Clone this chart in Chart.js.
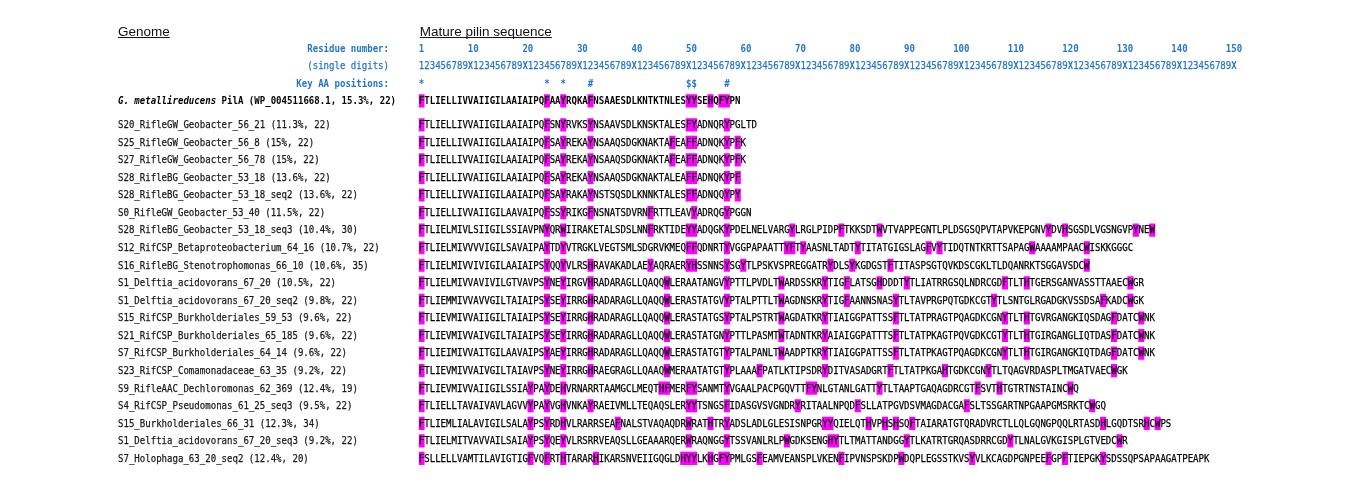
<!DOCTYPE html>
<html>
<head>
<meta charset="utf-8">
<title>Mature pilin sequences</title>
<script src="https://cdn.jsdelivr.net/npm/chart.js@4.4.0/dist/chart.umd.min.js"></script>
<style>
  html, body { margin: 0; padding: 0; background: #fff; }
  #wrap { width: 1360px; height: 502px; }
</style>
</head>
<body>
<div id="wrap"><canvas id="grafica" width="1360" height="502"></canvas></div>
<script>
// reference pilin
const refName = ['G. metallireducens', ' PilA (WP_004511668.1, 15.3%, 22)'];
const refSeq = 'FTLIELLIVVAIIGILAAIAIPQFAAYRQKAFNSAAESDLKNTKTNLESYYSEHQFYPN';

const genomes = [
  'S20_RifleGW_Geobacter_56_21 (11.3%, 22)',
  'S25_RifleGW_Geobacter_56_8 (15%, 22)',
  'S27_RifleGW_Geobacter_56_78 (15%, 22)',
  'S28_RifleBG_Geobacter_53_18 (13.6%, 22)',
  'S28_RifleBG_Geobacter_53_18_seq2 (13.6%, 22)',
  'S0_RifleGW_Geobacter_53_40 (11.5%, 22)',
  'S28_RifleBG_Geobacter_53_18_seq3 (10.4%, 30)',
  'S12_RifCSP_Betaproteobacterium_64_16 (10.7%, 22)',
  'S16_RifleBG_Stenotrophomonas_66_10 (10.6%, 35)',
  'S1_Delftia_acidovorans_67_20 (10.5%, 22)',
  'S1_Delftia_acidovorans_67_20_seq2 (9.8%, 22)',
  'S15_RifCSP_Burkholderiales_59_53 (9.6%, 22)',
  'S21_RifCSP_Burkholderiales_65_185 (9.6%, 22)',
  'S7_RifCSP_Burkholderiales_64_14 (9.6%, 22)',
  'S23_RifCSP_Comamonadaceae_63_35 (9.2%, 22)',
  'S9_RifleAAC_Dechloromonas_62_369 (12.4%, 19)',
  'S4_RifCSP_Pseudomonas_61_25_seq3 (9.5%, 22)',
  'S15_Burkholderiales_66_31 (12.3%, 34)',
  'S1_Delftia_acidovorans_67_20_seq3 (9.2%, 22)',
  'S7_Holophaga_63_20_seq2 (12.4%, 20)'
];

const sequences = [
  'FTLIELLIVVAIIGILAAIAIPQFSNYRVKSYNSAAVSDLKNSKTALESFYADNQRYPGLTD',
  'FTLIELLIVVAIIGILAAIAIPQFSAYREKAYNSAAQSDGKNAKTAFEAFFADNQKYPFK',
  'FTLIELLIVVAIIGILAAIAIPQFSAYREKAYNSAAQSDGKNAKTAFEAFFADNQKYPFK',
  'FTLIELLIVVAIIGILAAIAIPQFSAYREKAYNSAAQSDGKNAKTALEAFFADNQKYPF',
  'FTLIELLIVVAIIGILAAIAIPQFSAYRAKAYNSTSQSDLKNNKTALESFFADNQQYPY',
  'FTLIELLIVVAIIGILAAVAIPQFSSYRIKGFNSNATSDVRNFRTTLEAVYADRQGYPGGN',
  'FTLIELMIVLSIIGILSSIAVPNYQRWIIRAKETALSDSLNNFRKTIDEYYADQGKYPDELNELVARGYLRGLPIDPFTKKSDTWVTVAPPEGNTLPLDSGSQPVTAPVKEPGNVYDVHSGSDLVGSNGVPYNEW',
  'FTLIELMIVVVVIGILSAVAIPAYTDYVTRGKLVEGTSMLSDGRVKMEQFFQDNRTYVGGPAPAATTYFTYAASNLTADTYTITATGIGSLAGFVYTIDQTNTKRTTSAPAGWAAAAMPAACWISKKGGGC',
  'FTLIELMIVVIVIGILAAIAIPSYQQYVLRSHRAVAKADLAEYAQRAERYHSSNNSYSGYTLPSKVSPREGGATRYDLSYKGDGSTFTITASPSGTQVKDSCGKLTLDQANRKTSGGAVSDCW',
  'FTLIELMIVVAVIVILGTVAVPSYNEYIRGVHRADARAGLLQAQQWLERAATANGVYPTTLPVDLTWARDSSKRYTIGFLATSGHDDDTYTLIATRRGSQLNDRCGDFTLTHTGERSGANVASSTTAAECWGR',
  'FTLIEMMIVVAVVGILTAIAIPSYSEYIRRGHRADARAGLLQAQQWLERASTATGVYPTALPTTLTWAGDNSKRYTIGFAANNSNASYTLTAVPRGPQTGDKCGTYTLSNTGLRGADGKVSSDSAFKADCWGK',
  'FTLIEVMIVVAIIGILTAIAIPSYSEYIRRGHRADARAGLLQAQQWLERASTATGSYPTALPSTRTWAGDATKRYTIAIGGPATTSSFTLTATPRAGTPQAGDKCGNYTLTHTGVRGANGKIQSDAGFDATCWNK',
  'FTLIEVMIVVAIVGILTAIAIPSYSEYIRRGHRADARAGLLQAQQWLERASTATGNYPTTLPASMTWTADNTKRYAIAIGGPATTTSFTLTATPKAGTPQVGDKCGTYTLTHTGIRGANGLIQTDASFDATCWNK',
  'FTLIEIMIVVAITGILAAVAIPSYAEYIRRGHRADARAGLLQAQQWLERASTATGTYPTALPANLTWAADPTKRYTIAIGGPATTSSFTLTATPKAGTPQAGDKCGNYTLTHTGIRGANGKIQTDAGFDATCWNK',
  'FTLIEVMIVVAIVGILTAIAVPSYNEYIRRGHRAEGRAGLLQAAQWMERAATATGTYPLAAAFPATLKTIPSDRYDITVASADGRTFTLTATPKGAHTGDKCGNYTLTQAGVRDASPLTMGATVAECWGK',
  'FTLIEVMIVVAIIGILSSIAYPAYDEHVRNARRTAAMGCLMEQTHFMERFYSANMTYVGAALPACPGQVTTFYNLGTANLGATTYTLTAAPTGAQAGDRCGTFSVTHTGTRTNSTAINCWQ',
  'FTLIELLTAVAIVAVLAGVVYPAYVGHVNKAYRAEIVMLLTEQAQSLERYYTSNGSFIDASGVSVGNDRYRITAALNPQDFSLLATPGVDSVMAGDACGAFSLTSSGARTNPGAAPGMSRKTCWGQ',
  'FTLIEMLIALAVIGILSALAYPSYRDHVLRARRSEAFNALSTVAQAQDRWRATHTRYADSLADLGLESISNPGRYYQIELQTHVPHSHSQFTAIARATGTQRADVRCTLLQLGQNGPQQLRTASDHLGQDTSRHCWPS',
  'FTLIELMITVAVVAILSAIAYPSYQEYVLRSRRVEAQSLLGEAAARQERWRAQNGGYTSSVANLRLPWGDKSENGHYTLTMATTANDGGYTLKATRTGRQASDRRCGDYTLNALGVKGISPLGTVEDCWR',
  'FSLLELLVAMTILAVIGTIGFVQFRTHTARARHIKARSNVEIIGQGLDHYYLKHGFYPMLGSFEAMVEANSPLVKENFIPVNSPSKDPWDQPLEGSSTKVSYVLKCAGDPGNPEEFGPFTIEPGKYSDSSQPSAPAAGATPEAPK'
];

// aromatic residues that get the magenta box
const highlightAA = ['F', 'Y', 'W', 'H'];

const residueTicks = [1, 10, 20, 30, 40, 50, 60, 70, 80, 90, 100, 110, 120, 130, 140, 150];
const digitRow = '123456789X'.repeat(15);
const keyPositions = [1, 24, 27, 32, 50, 51, 57];
const keySymbols = ['*', '*', '*', '#', '$', '$', '#'];

// layout
const CHAR_W = 5.453;
const X_LEFT = 421.5 - CHAR_W / 2;
const ROW_H = 17.56;
const FIRST_ROW_PX = 124.8;
const REF_Y = -1.36, KEY_Y = -2.3, DIGIT_Y = -3.33, NUM_Y = -4.33, TITLE_Y = -5.3;
const LABEL_X = 118, HEAD_RIGHT = 389;
const FS = 10.8;
const SX = CHAR_W / (FS * 0.602);
const MONO = '"DejaVu Sans Mono", monospace';
const BLUE = '#2476cc';
const INK = '#000';

const boxes = [];
function addBoxes(seq, row) {
  for (let i = 0; i < seq.length; i++) {
    if (highlightAA.includes(seq[i])) boxes.push({ x: [i + 0.5, i + 1.5], y: row });
  }
}
addBoxes(refSeq, REF_Y);
sequences.forEach((s, r) => addBoxes(s, r));

const alignmentText = {
  id: 'alignmentText',
  afterDatasetsDraw(chart) {
    const ctx = chart.ctx;
    const xs = chart.scales.x, ys = chart.scales.y;
    ctx.save();
    ctx.textBaseline = 'middle';

    const mono = (str, x, y, align, weight, color) => {
      ctx.save();
      ctx.font = weight + ' ' + FS + 'px ' + MONO;
      ctx.fillStyle = color;
      ctx.strokeStyle = color;
      ctx.lineWidth = 0.25;
      ctx.textAlign = align;
      ctx.translate(x, y);
      ctx.scale(SX, 1);
      ctx.fillText(str, 0, 0);
      if (!weight.includes('bold')) ctx.strokeText(str, 0, 0);
      ctx.restore();
    };
    const cols = (str, startCol, y, weight, color) => {
      for (let i = 0; i < str.length; i++) {
        mono(str[i], xs.getPixelForValue(startCol + i), y, 'center', typeof weight === 'function' ? weight(str[i]) : weight, color);
      }
    };

    // column titles
    ctx.font = '13.5px "Liberation Sans", Arial, sans-serif';
    ctx.fillStyle = '#111';
    ctx.textAlign = 'left';
    ctx.textBaseline = 'alphabetic';
    const tY = ys.getPixelForValue(TITLE_Y) + 4;
    [['Genome', LABEL_X], ['Mature pilin sequence', xs.getPixelForValue(0.5) + 1]].forEach(([t, x]) => {
      ctx.fillText(t, x, tY);
      ctx.fillRect(x, tY + 1.3, ctx.measureText(t).width, 1);
    });
    ctx.textBaseline = 'middle';

    // header rows
    mono('Residue number:', HEAD_RIGHT, ys.getPixelForValue(NUM_Y), 'right', 'bold', BLUE);
    mono('(single digits)', HEAD_RIGHT, ys.getPixelForValue(DIGIT_Y), 'right', 'normal', BLUE);
    mono('Key AA positions:', HEAD_RIGHT, ys.getPixelForValue(KEY_Y), 'right', 'bold', BLUE);

    residueTicks.forEach(n => {
      const s = String(n);
      cols(s, n - Math.floor((s.length - 1) / 2), ys.getPixelForValue(NUM_Y), 'bold', BLUE);
    });
    cols(digitRow, 1, ys.getPixelForValue(DIGIT_Y), ch => (ch === 'X' ? 'bold' : 'normal'), BLUE);
    keyPositions.forEach((p, i) => cols(keySymbols[i], p, ys.getPixelForValue(KEY_Y), 'bold', BLUE));

    // reference row
    const ry = ys.getPixelForValue(REF_Y) + 0.5;
    mono(refName[0], LABEL_X, ry, 'left', 'italic bold', INK);
    mono(refName[1], LABEL_X + refName[0].length * CHAR_W, ry, 'left', 'bold', INK);
    cols(refSeq, 1, ry, 'bold', INK);

    // genome rows
    genomes.forEach((g, r) => {
      const y = ys.getPixelForValue(r) + 0.5;
      mono(g, LABEL_X, y, 'left', 'normal', '#1a1a1a');
      cols(sequences[r], 1, y, 'normal', INK);
    });
    ctx.restore();
  }
};

new Chart(document.getElementById('grafica'), {
  type: 'bar',
  data: {
    datasets: [{
      label: 'Aromatic residues',
      data: boxes,
      backgroundColor: '#ff00ff',
      borderWidth: 0,
      barThickness: 12.5
    }]
  },
  options: {
    indexAxis: 'y',
    responsive: false,
    devicePixelRatio: 1,
    animation: false,
    layout: { padding: { left: X_LEFT, right: 1360 - (X_LEFT + 150 * CHAR_W), top: 0, bottom: 0 } },
    scales: {
      x: { type: 'linear', min: 0.5, max: 150.5, offset: false, display: false },
      y: {
        type: 'linear',
        reverse: true,
        offset: false,
        min: -FIRST_ROW_PX / ROW_H,
        max: (502 - FIRST_ROW_PX) / ROW_H,
        display: false
      }
    },
    plugins: { legend: { display: false }, tooltip: { enabled: false } }
  },
  plugins: [alignmentText]
});
</script>
</body>
</html>
